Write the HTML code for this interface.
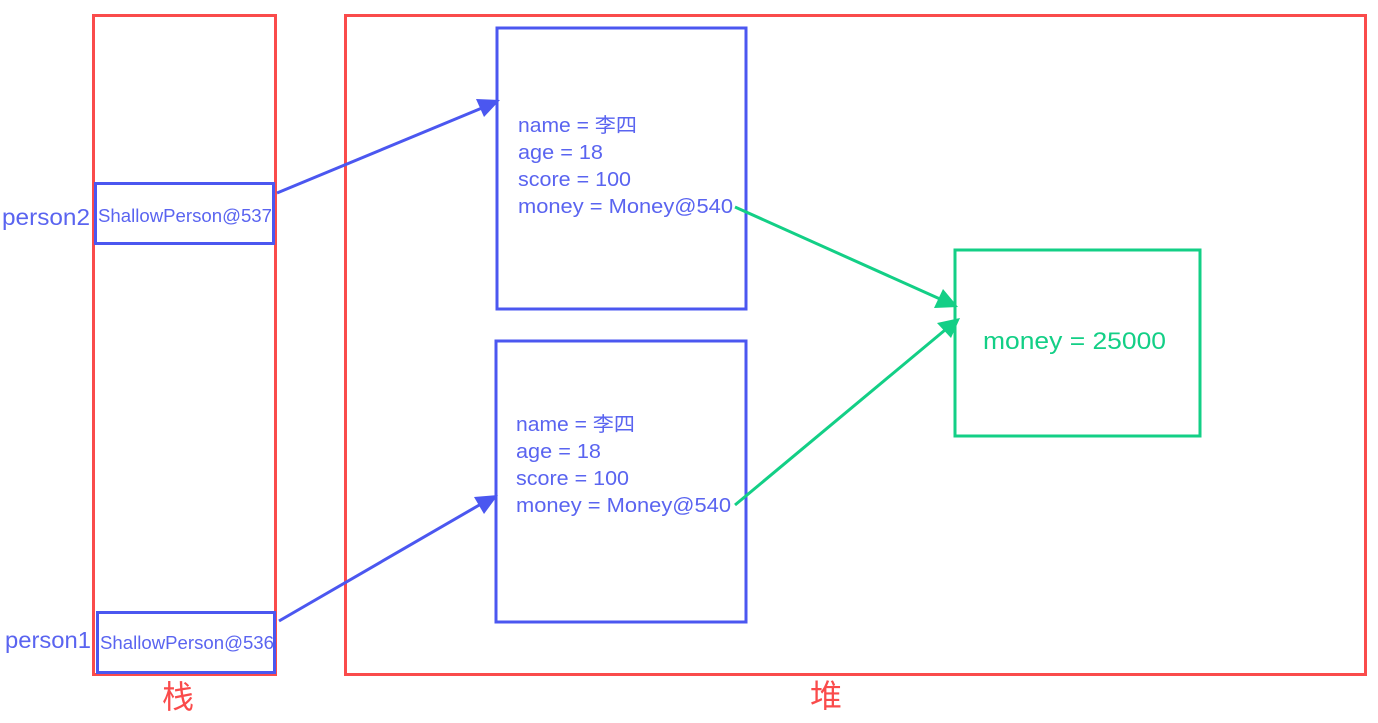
<!DOCTYPE html>
<html><head><meta charset="utf-8"><style>
html,body{margin:0;padding:0;background:#fff;width:1378px;height:723px;overflow:hidden}
text{font-family:"Liberation Sans","Noto Sans CJK SC",sans-serif}
</style></head><body>
<svg width="1378" height="723" xmlns="http://www.w3.org/2000/svg">
<g fill="none" stroke-width="3">
<rect x="93.5" y="15.5" width="182" height="659" stroke="#fa4b4b"/>
<rect x="345.5" y="15.5" width="1020" height="659" stroke="#fa4b4b"/>
<rect x="95.5" y="183.5" width="178" height="60" stroke="#4b57f0"/>
<rect x="97.5" y="612.5" width="177" height="60" stroke="#4b57f0"/>
<rect x="497" y="28" width="249" height="281" stroke="#4b57f0"/>
<rect x="496" y="341" width="250" height="281" stroke="#4b57f0"/>
<rect x="955" y="250" width="245" height="186" stroke="#13cf86"/>
<line x1="277" y1="193" x2="482" y2="108" stroke="#4b57f0"/>
<line x1="279" y1="621" x2="481" y2="504" stroke="#4b57f0"/>
<line x1="735" y1="207" x2="940" y2="299" stroke="#13cf86"/>
<line x1="735" y1="505" x2="945" y2="330" stroke="#13cf86"/>
</g>
<polygon points="500,100 476,99 484,117" fill="#4b57f0"/>
<polygon points="498,495 474,497 484,514" fill="#4b57f0"/>
<polygon points="958,307 943,289 934,308" fill="#13cf86"/>
<polygon points="960,318 937,323 951,338" fill="#13cf86"/>
<g fill="#5a64f0" font-size="20" lengthAdjust="spacingAndGlyphs">
<text x="518" y="132" textLength="119" lengthAdjust="spacingAndGlyphs">name = 李四</text>
<text x="518" y="159" textLength="85" lengthAdjust="spacingAndGlyphs">age = 18</text>
<text x="518" y="186" textLength="113" lengthAdjust="spacingAndGlyphs">score = 100</text>
<text x="518" y="213" textLength="215" lengthAdjust="spacingAndGlyphs">money = Money@540</text>
<text x="516" y="431" textLength="119" lengthAdjust="spacingAndGlyphs">name = 李四</text>
<text x="516" y="458" textLength="85" lengthAdjust="spacingAndGlyphs">age = 18</text>
<text x="516" y="485" textLength="113" lengthAdjust="spacingAndGlyphs">score = 100</text>
<text x="516" y="512" textLength="215" lengthAdjust="spacingAndGlyphs">money = Money@540</text>
<text x="98" y="222" font-size="18" textLength="174" lengthAdjust="spacingAndGlyphs">ShallowPerson@537</text>
<text x="100" y="649" font-size="18" textLength="174" lengthAdjust="spacingAndGlyphs">ShallowPerson@536</text>
<text x="2" y="225" font-size="23" textLength="88" lengthAdjust="spacingAndGlyphs">person2</text>
<text x="5" y="648" font-size="23" textLength="86" lengthAdjust="spacingAndGlyphs">person1</text>
</g>
<text x="983" y="349" font-size="24" fill="#13cf86" textLength="183" lengthAdjust="spacingAndGlyphs">money = 25000</text>
<text x="162" y="708" font-size="32" fill="#fa4b4b">栈</text>
<text x="810" y="707" font-size="32" fill="#fa4b4b">堆</text>
</svg>
</body></html>
